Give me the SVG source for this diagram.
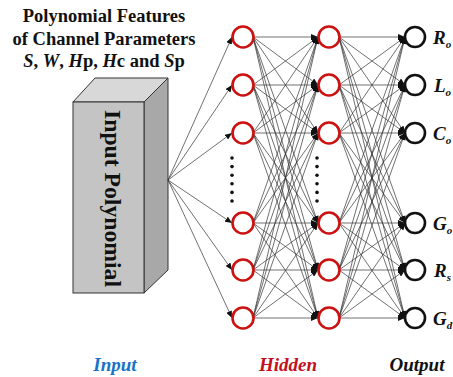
<svg xmlns="http://www.w3.org/2000/svg" width="453" height="377" viewBox="0 0 453 377">
<defs>
<marker id="ah" markerUnits="userSpaceOnUse" markerWidth="8" markerHeight="6" refX="7" refY="3" orient="auto">
<path d="M0,0 L7,3 L0,6 z" fill="#111"/>
</marker>
<style>
.c{stroke:#333;stroke-width:0.7;fill:none;marker-end:url(#ah)}
.h{fill:#fff;stroke:#cc1111;stroke-width:2.6}
.o{fill:#fff;stroke:#111;stroke-width:2.6}
.t{font-family:"Liberation Serif","Times New Roman",serif;font-weight:bold}
.lab{font-family:"Liberation Serif","Times New Roman",serif;font-weight:bold;font-style:italic;font-size:19px}
.d{fill:#111}
</style>
</defs>
<rect width="453" height="377" fill="#fff"/>
<g id="title" class="t" font-size="18.5" text-anchor="middle" fill="#111">
<text x="104" y="22">Polynomial Features</text>
<text x="104" y="45">of Channel Parameters</text>
<text x="104" y="67"><tspan font-style="italic">S</tspan>, <tspan font-style="italic">W</tspan>, <tspan font-style="italic">H</tspan>p, <tspan font-style="italic">H</tspan>c and <tspan font-style="italic">S</tspan>p</text>
</g>
<g id="input-box">
<polygon points="73,102 95,78 168,78 144,102" fill="#d8d8d8" stroke="#333" stroke-width="1"/>
<polygon points="144,102 168,78 168,270 144,293" fill="#a8a8a8" stroke="#333" stroke-width="1"/>
<rect x="73" y="102" width="71" height="191" fill="#c4c4c4" stroke="#333" stroke-width="1"/>
<text class="t" font-size="23" fill="#111" text-anchor="middle" transform="translate(105,198.5) rotate(90)" textLength="177" lengthAdjust="spacingAndGlyphs">Input Polynomial</text>
</g>
<g id="connectors">
<line class="c" x1="168" y1="180" x2="232" y2="37"/>
<line class="c" x1="168" y1="180" x2="232" y2="85"/>
<line class="c" x1="168" y1="180" x2="232" y2="133"/>
<line class="c" x1="168" y1="180" x2="232" y2="223"/>
<line class="c" x1="168" y1="180" x2="232" y2="270"/>
<line class="c" x1="168" y1="180" x2="232" y2="318"/>

<line class="c" x1="253" y1="37" x2="318" y2="37"/>
<line class="c" x1="253" y1="37" x2="318" y2="85"/>
<line class="c" x1="253" y1="37" x2="318" y2="133"/>
<line class="c" x1="253" y1="37" x2="318" y2="223"/>
<line class="c" x1="253" y1="37" x2="318" y2="270"/>
<line class="c" x1="253" y1="37" x2="318" y2="318"/>
<line class="c" x1="253" y1="85" x2="318" y2="37"/>
<line class="c" x1="253" y1="85" x2="318" y2="85"/>
<line class="c" x1="253" y1="85" x2="318" y2="133"/>
<line class="c" x1="253" y1="85" x2="318" y2="223"/>
<line class="c" x1="253" y1="85" x2="318" y2="270"/>
<line class="c" x1="253" y1="85" x2="318" y2="318"/>
<line class="c" x1="253" y1="133" x2="318" y2="37"/>
<line class="c" x1="253" y1="133" x2="318" y2="85"/>
<line class="c" x1="253" y1="133" x2="318" y2="133"/>
<line class="c" x1="253" y1="133" x2="318" y2="223"/>
<line class="c" x1="253" y1="133" x2="318" y2="270"/>
<line class="c" x1="253" y1="133" x2="318" y2="318"/>
<line class="c" x1="253" y1="223" x2="318" y2="37"/>
<line class="c" x1="253" y1="223" x2="318" y2="85"/>
<line class="c" x1="253" y1="223" x2="318" y2="133"/>
<line class="c" x1="253" y1="223" x2="318" y2="223"/>
<line class="c" x1="253" y1="223" x2="318" y2="270"/>
<line class="c" x1="253" y1="223" x2="318" y2="318"/>
<line class="c" x1="253" y1="270" x2="318" y2="37"/>
<line class="c" x1="253" y1="270" x2="318" y2="85"/>
<line class="c" x1="253" y1="270" x2="318" y2="133"/>
<line class="c" x1="253" y1="270" x2="318" y2="223"/>
<line class="c" x1="253" y1="270" x2="318" y2="270"/>
<line class="c" x1="253" y1="270" x2="318" y2="318"/>
<line class="c" x1="253" y1="318" x2="318" y2="37"/>
<line class="c" x1="253" y1="318" x2="318" y2="85"/>
<line class="c" x1="253" y1="318" x2="318" y2="133"/>
<line class="c" x1="253" y1="318" x2="318" y2="223"/>
<line class="c" x1="253" y1="318" x2="318" y2="270"/>
<line class="c" x1="253" y1="318" x2="318" y2="318"/>

<line class="c" x1="339" y1="37" x2="405" y2="37"/>
<line class="c" x1="339" y1="37" x2="405" y2="85"/>
<line class="c" x1="339" y1="37" x2="405" y2="133"/>
<line class="c" x1="339" y1="37" x2="405" y2="223"/>
<line class="c" x1="339" y1="37" x2="405" y2="270"/>
<line class="c" x1="339" y1="37" x2="405" y2="318"/>
<line class="c" x1="339" y1="85" x2="405" y2="37"/>
<line class="c" x1="339" y1="85" x2="405" y2="85"/>
<line class="c" x1="339" y1="85" x2="405" y2="133"/>
<line class="c" x1="339" y1="85" x2="405" y2="223"/>
<line class="c" x1="339" y1="85" x2="405" y2="270"/>
<line class="c" x1="339" y1="85" x2="405" y2="318"/>
<line class="c" x1="339" y1="133" x2="405" y2="37"/>
<line class="c" x1="339" y1="133" x2="405" y2="85"/>
<line class="c" x1="339" y1="133" x2="405" y2="133"/>
<line class="c" x1="339" y1="133" x2="405" y2="223"/>
<line class="c" x1="339" y1="133" x2="405" y2="270"/>
<line class="c" x1="339" y1="133" x2="405" y2="318"/>
<line class="c" x1="339" y1="223" x2="405" y2="37"/>
<line class="c" x1="339" y1="223" x2="405" y2="85"/>
<line class="c" x1="339" y1="223" x2="405" y2="133"/>
<line class="c" x1="339" y1="223" x2="405" y2="223"/>
<line class="c" x1="339" y1="223" x2="405" y2="270"/>
<line class="c" x1="339" y1="223" x2="405" y2="318"/>
<line class="c" x1="339" y1="270" x2="405" y2="37"/>
<line class="c" x1="339" y1="270" x2="405" y2="85"/>
<line class="c" x1="339" y1="270" x2="405" y2="133"/>
<line class="c" x1="339" y1="270" x2="405" y2="223"/>
<line class="c" x1="339" y1="270" x2="405" y2="270"/>
<line class="c" x1="339" y1="270" x2="405" y2="318"/>
<line class="c" x1="339" y1="318" x2="405" y2="37"/>
<line class="c" x1="339" y1="318" x2="405" y2="85"/>
<line class="c" x1="339" y1="318" x2="405" y2="133"/>
<line class="c" x1="339" y1="318" x2="405" y2="223"/>
<line class="c" x1="339" y1="318" x2="405" y2="270"/>
<line class="c" x1="339" y1="318" x2="405" y2="318"/>
</g>
<g id="hidden1">
<circle class="h" cx="243" cy="37" r="10.5"/>
<circle class="h" cx="243" cy="85" r="10.5"/>
<circle class="h" cx="243" cy="133" r="10.5"/>
<circle class="h" cx="243" cy="223" r="10.5"/>
<circle class="h" cx="243" cy="270" r="10.5"/>
<circle class="h" cx="243" cy="318" r="10.5"/>
<circle class="d" cx="232" cy="158" r="1.8"/>
<circle class="d" cx="232" cy="166.6" r="1.8"/>
<circle class="d" cx="232" cy="175.2" r="1.8"/>
<circle class="d" cx="232" cy="183.8" r="1.8"/>
<circle class="d" cx="232" cy="192.4" r="1.8"/>
<circle class="d" cx="232" cy="201" r="1.8"/>
</g>
<g id="hidden2">
<circle class="h" cx="329" cy="37" r="10.5"/>
<circle class="h" cx="329" cy="85" r="10.5"/>
<circle class="h" cx="329" cy="133" r="10.5"/>
<circle class="h" cx="329" cy="223" r="10.5"/>
<circle class="h" cx="329" cy="270" r="10.5"/>
<circle class="h" cx="329" cy="318" r="10.5"/>
<circle class="d" cx="317" cy="158" r="1.8"/>
<circle class="d" cx="317" cy="166.6" r="1.8"/>
<circle class="d" cx="317" cy="175.2" r="1.8"/>
<circle class="d" cx="317" cy="183.8" r="1.8"/>
<circle class="d" cx="317" cy="192.4" r="1.8"/>
<circle class="d" cx="317" cy="201" r="1.8"/>
</g>
<g id="output">
<circle class="o" cx="415" cy="37" r="10"/>
<circle class="o" cx="415" cy="85" r="10"/>
<circle class="o" cx="415" cy="133" r="10"/>
<circle class="o" cx="415" cy="223" r="10"/>
<circle class="o" cx="415" cy="270" r="10"/>
<circle class="o" cx="415" cy="318" r="10"/>
<g class="lab" fill="#111">
<text x="433" y="44">R<tspan font-size="11" dy="4">o</tspan></text>
<text x="434" y="92">L<tspan font-size="11" dy="4">o</tspan></text>
<text x="433" y="140">C<tspan font-size="11" dy="4">o</tspan></text>
<text x="433" y="230">G<tspan font-size="11" dy="4">o</tspan></text>
<text x="434" y="277">R<tspan font-size="11" dy="4">s</tspan></text>
<text x="433" y="325">G<tspan font-size="11" dy="4">d</tspan></text>
</g>
</g>
<g id="layer-labels" class="lab" text-anchor="middle">
<text x="115" y="371" fill="#1a73c6">Input</text>
<text x="288" y="371" fill="#c4101e">Hidden</text>
<text x="417" y="371" fill="#111">Output</text>
</g>
</svg>
